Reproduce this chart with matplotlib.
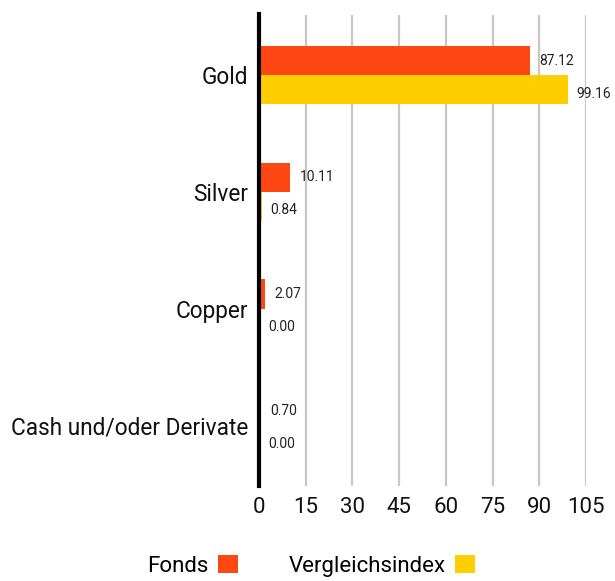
import matplotlib.pyplot as plt
import numpy as np

plt.rcParams['font.family'] = ['Roboto', 'DejaVu Sans']

# Daten
kategorien = ["Gold", "Silver", "Copper", "Cash und/oder Derivate"]
fonds = [87.12, 10.11, 2.07, 0.70]
vergleichsindex = [99.16, 0.84, 0.00, 0.00]
xticks = [0, 15, 30, 45, 60, 75, 90, 105]

farbe_fonds = "#FF4713"
farbe_index = "#FFCE00"

fig = plt.figure(figsize=(6.15, 5.81), dpi=100)
ax = fig.add_axes([259 / 615, 1 - 486 / 581, 327 / 615, (486 - 14.5) / 581])

y = np.arange(len(kategorien))
h = 0.25
ax.barh(y - h / 2, fonds, height=h, color=farbe_fonds, label="Fonds", zorder=3)
ax.barh(y + h / 2, vergleichsindex, height=h, color=farbe_index,
        label="Vergleichsindex", zorder=3)

# Werte beschriften
for i in range(len(kategorien)):
    ax.annotate(f"{fonds[i]:.2f}", xy=(fonds[i], y[i] - h / 2),
                xytext=(9, 0), textcoords="offset pixels",
                va="center", ha="left", fontsize=10, color="#222222")
    ax.annotate(f"{vergleichsindex[i]:.2f}", xy=(vergleichsindex[i], y[i] + h / 2),
                xytext=(9, -4), textcoords="offset pixels",
                va="center", ha="left", fontsize=10, color="#222222")

ax.set_xlim(0, 105)
ax.set_ylim(3.52, -0.52)
ax.set_yticks(y)
ax.set_yticklabels(kategorien, fontsize=16.3, color="#111111")
ax.set_xticks(xticks)
ax.set_xticklabels([str(t) for t in xticks], fontsize=16, color="#111111")
ax.tick_params(length=0, axis="y", pad=8)
ax.tick_params(length=0, axis="x", pad=8)

# Gitter
for t in xticks[1:]:
    ax.axvline(t, color="#c8c8c8", lw=1.6, zorder=1)

for s in ["top", "right", "bottom"]:
    ax.spines[s].set_visible(False)
ax.spines["left"].set_linewidth(3)
ax.spines["left"].set_zorder(4)

# Legende
fig.legend(loc="center", bbox_to_anchor=(311 / 615, 1 - 566 / 581),
           ncol=2, frameon=False, markerfirst=False, fontsize=16,
           handlelength=0.9, handleheight=0.85, handletextpad=0.4,
           columnspacing=2.3)

plt.savefig("out.png", dpi=100)
